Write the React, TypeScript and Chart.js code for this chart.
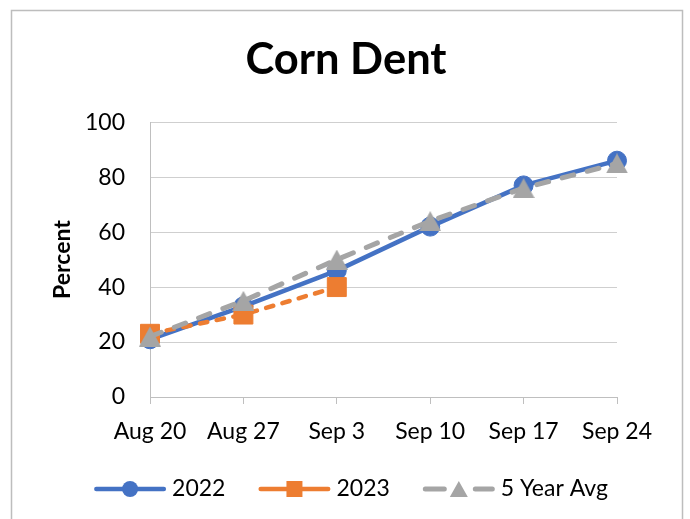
import React, { useEffect, useRef } from 'react';
import { Chart, registerables } from 'chart.js';

Chart.register(...registerables);

const categories = ['Aug 20', 'Aug 27', 'Sep 3', 'Sep 10', 'Sep 17', 'Sep 24'];
const values2022 = [21, 33, 46, 62, 77, 86];
const values2023 = [23, 30, 40, null, null, null];
const values5yr = [22, 35, 50, 64, 76, 85];
const seriesNames = ['2022', '2023', '5 Year Avg'];
const titleText = 'Corn Dent';
const yAxisTitle = 'Percent';
const yMin = 0;
const yMax = 100;
const yStep = 20;

const FONT = 'Lato, Carlito, "Liberation Sans", sans-serif';
const BLUE = '#4472C4';
const ORANGE = '#ED7D31';
const GRAY = '#A5A5A5';
const MARKERS = ['circle', 'rect', 'triangle'];

function makeTriangle(w: number, h: number, color: string) {
  const c = document.createElement('canvas');
  c.width = w;
  c.height = h;
  const ctx = c.getContext('2d')!;
  ctx.fillStyle = color;
  ctx.beginPath();
  ctx.moveTo(w / 2, 0);
  ctx.lineTo(w, h);
  ctx.lineTo(0, h);
  ctx.closePath();
  ctx.fill();
  return c;
}

const frameAndLegend = {
  id: 'frameAndLegend',
  beforeDraw(chart: any) {
    const ctx = chart.ctx;
    ctx.save();
    ctx.fillStyle = '#ffffff';
    ctx.fillRect(0, 0, chart.width, chart.height);
    ctx.strokeStyle = '#bdbdbd';
    ctx.lineWidth = 1.5;
    ctx.strokeRect(11.5, 10.5, 671, 530);
    ctx.restore();
  },
  afterDraw(chart: any) {
    const ctx = chart.ctx;
    ctx.save();
    ctx.font = '23px ' + FONT;
    ctx.textBaseline = 'middle';
    ctx.textAlign = 'left';
    const lineLen = 72;
    const textGap = 6;
    const itemGap = 33;
    const y = 489;
    const ds = chart.data.datasets;
    const widths = ds.map((d: any) => ctx.measureText(d.label).width);
    let total = 0;
    widths.forEach((w: number, i: number) => {
      total += lineLen + textGap + w + (i < ds.length - 1 ? itemGap : 0);
    });
    let x = 351 - total / 2;
    ds.forEach((d: any, i: number) => {
      const marker = MARKERS[i];
      ctx.save();
      ctx.strokeStyle = d.borderColor;
      ctx.lineWidth = d.borderWidth;
      ctx.lineCap = 'round';
      const hw = d.borderWidth / 2;
      ctx.beginPath();
      if (marker === 'triangle') {
        ctx.moveTo(x + hw, y);
        ctx.lineTo(x + 24 - hw, y);
        ctx.moveTo(x + lineLen - 22 + hw, y);
        ctx.lineTo(x + lineLen - hw, y);
      } else {
        ctx.moveTo(x + hw, y);
        ctx.lineTo(x + lineLen - hw, y);
      }
      ctx.stroke();
      ctx.restore();
      const cx = x + lineLen / 2;
      ctx.fillStyle = d.borderColor;
      ctx.beginPath();
      if (marker === 'circle') {
        ctx.arc(cx, y, 8, 0, Math.PI * 2);
      } else if (marker === 'rect') {
        ctx.rect(cx - 8, y - 8, 16, 16);
      } else {
        ctx.moveTo(cx, y - 8);
        ctx.lineTo(cx + 9, y + 8);
        ctx.lineTo(cx - 9, y + 8);
        ctx.closePath();
      }
      ctx.fill();
      ctx.fillStyle = '#000000';
      ctx.fillText(d.label, x + lineLen + textGap, y);
      x += lineLen + textGap + widths[i] + itemGap;
    });
    ctx.restore();
  },
};

export default function App() {
  const ref = useRef<HTMLCanvasElement | null>(null);
  useEffect(() => {
    if (!ref.current) return;
    const tri = makeTriangle(22, 20, GRAY);
    const chart = new Chart(ref.current, {
      type: 'line',
      data: {
        labels: categories,
        datasets: [
          {
            label: seriesNames[0],
            data: values2022,
            borderColor: BLUE,
            backgroundColor: BLUE,
            borderWidth: 4.5,
            pointStyle: 'circle',
            pointRadius: 9.5,
            pointBackgroundColor: BLUE,
            pointBorderColor: BLUE,
            pointBorderWidth: 1,
            borderCapStyle: 'round',
            borderJoinStyle: 'round',
            order: 2,
          },
          {
            label: seriesNames[1],
            data: values2023,
            borderColor: ORANGE,
            backgroundColor: ORANGE,
            borderWidth: 4.5,
            borderDash: [7.5, 9.5],
            pointStyle: 'rect',
            pointRadius: 13.4,
            pointBackgroundColor: ORANGE,
            pointBorderColor: ORANGE,
            pointBorderWidth: 1,
            borderCapStyle: 'round',
            borderJoinStyle: 'round',
            spanGaps: false,
            order: 1,
          },
          {
            label: seriesNames[2],
            data: values5yr,
            borderColor: GRAY,
            backgroundColor: GRAY,
            borderWidth: 5,
            borderDash: [12, 14],
            pointStyle: tri,
            pointRadius: 11,
            pointBackgroundColor: GRAY,
            pointBorderColor: GRAY,
            pointBorderWidth: 0,
            borderCapStyle: 'round',
            borderJoinStyle: 'round',
            order: 0,
          },
        ],
      },
      options: {
        responsive: false,
        animation: false,
        devicePixelRatio: 1,
        layout: { padding: { left: 49, right: 47, top: 0, bottom: 0 } },
        plugins: {
          legend: { display: false },
          tooltip: { enabled: false },
          title: {
            display: true,
            text: titleText,
            color: '#000000',
            font: { family: FONT, size: 43.5, weight: 'bold' },
            padding: { top: 34, bottom: 36 },
          },
        },
        scales: {
          x: {
            offset: false,
            grid: {
              display: true,
              drawOnChartArea: false,
              drawTicks: true,
              tickLength: 7,
              color: '#bfbfbf',
            },
            border: { display: true, color: '#bfbfbf', width: 1 },
            ticks: {
              color: '#000000',
              font: { family: FONT, size: 23 },
              padding: 14,
              maxRotation: 0,
              autoSkip: false,
            },
            afterFit(scale: any) {
              scale.height = 122;
            },
          },
          y: {
            min: yMin,
            max: yMax,
            grid: { color: '#cfcfcf', drawTicks: false, lineWidth: 1 },
            border: { display: true, color: '#bfbfbf', width: 1 },
            ticks: {
              stepSize: yStep,
              color: '#000000',
              font: { family: FONT, size: 23 },
              padding: 25,
            },
            title: {
              display: true,
              text: yAxisTitle,
              color: '#000000',
              font: { family: FONT, size: 23, weight: 'bold' },
              padding: 0,
            },
            afterFit(scale: any) {
              scale.width = 101;
            },
          },
          yPad: {
            type: 'linear',
            position: 'right',
            display: true,
            grid: { display: false, drawTicks: false },
            border: { display: false },
            ticks: { display: false },
            afterFit(scale: any) {
              scale.width = 26;
            },
          },
        },
      },
      plugins: [frameAndLegend],
    } as any);
    return () => chart.destroy();
  }, []);
  return (
    <div style={{ position: 'fixed', left: 0, top: 0, width: 690, height: 519, background: '#fff' }}>
      <canvas ref={ref} width={690} height={519} style={{ display: 'block' }} />
    </div>
  );
}
